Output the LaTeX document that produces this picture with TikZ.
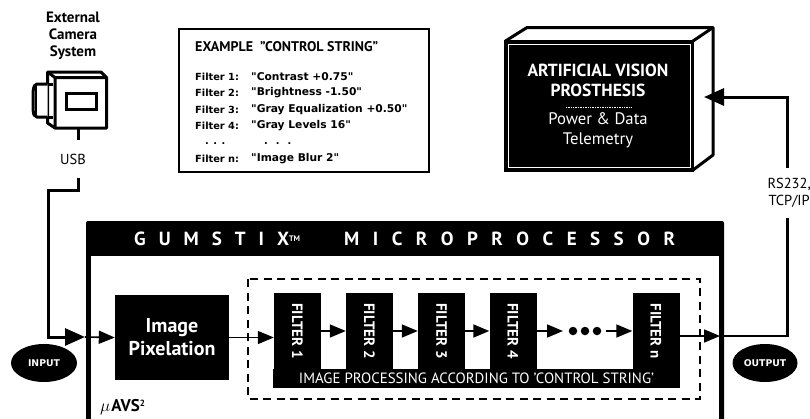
\documentclass[tikz,border=0pt]{standalone}
\usepackage{fontspec}
\usepackage{graphicx}
\setmainfont{PT Sans}
\newfontfamily\verd{DejaVu Sans}
\usetikzlibrary{arrows.meta,shapes.geometric}
\tikzset{
  x=1pt,y=-1pt,
  blk/.style={fill=black,draw=none,inner sep=0pt,text=white,align=center},
  wire/.style={line width=3pt,line join=miter},
  thin wire/.style={line width=1.6pt},
  bighead/.style={-{Triangle[length=20pt,width=17pt]}},
  smallhead/.style={-{Triangle[length=16pt,width=13pt]}},
  oval/.style={ellipse,fill=black,text=white,inner sep=0pt,font=\verd\bfseries\fontsize{9.3}{10}\selectfont},
  ftext/.style={font=\bfseries\fontsize{15}{15}\selectfont},
  plain/.style={inner sep=0pt,align=center},
  lbl/.style={plain,font=\fontsize{14.5}{14.5}\selectfont},
  flt/.style={anchor=west,inner sep=0pt,font=\verd\bfseries\fontsize{9.8}{10}\selectfont},
  fltq/.style={anchor=west,inner sep=0pt,font=\verd\bfseries\fontsize{10.7}{10}\selectfont},
  filterbox/.style={blk,minimum width=47pt,minimum height=76pt,ftext},
}
\begin{document}
\begin{tikzpicture}
\useasboundingbox (0,0) rectangle (810,418);
\fill[white] (0,0) rectangle (810,418);
% camera label
\node[plain,font=\bfseries\fontsize{15}{17}\selectfont] (camlabel) at (73,36) {External\\Camera\\System};
% camera
\draw[line width=3pt,line join=round,fill=white] (47.5,72) -- (101,72) -- (106.5,77.5) -- (106.5,128) -- (55,128) -- (47.5,123) -- cycle;
\draw[line width=3pt] (47.5,72) -- (55,77.5) -- (106.5,77.5) (55,77.5) -- (55,128);
\draw[line width=3pt,fill=white,rounded corners=2pt] (47.5,84) -- (35,84) -- (33,90) -- (33,112) -- (35,117) -- (47.5,117);
\draw[line width=1.6pt] (36,85) -- (36,116);
\draw[line width=3pt] (47.5,84) -- (53,84) (47.5,117) -- (53,117);
\node[draw,line width=3pt,minimum width=30pt,minimum height=16pt,inner sep=0pt] (window) at (81.5,101.5) {};
\coordinate (camstem) at (78,128);
\coordinate (stemend) at (78,140);
\draw[wire] (camstem) -- (stemend);
\node[lbl] (usb) at (73,159) {USB};
% usb wire
\coordinate (w1) at (78,178);
\coordinate (w2) at (78,190);
\coordinate (w3) at (48,190);
\coordinate (w4) at (48,337);
\coordinate (w5) at (85,337);
\draw[wire,bighead] (w1) -- (w2) -- (w3) -- (w4) -- (w5);
% example box
\node[draw,line width=2pt,minimum width=250pt,minimum height=143pt,inner sep=0pt] (ex) at (304,100.5) {};
\node[anchor=west,inner sep=0pt,font=\bfseries\fontsize{14}{14}\selectfont] (e0) at (195,47) {EXAMPLE \ "CONTROL STRING"};
\node[flt] (e1) at (195,77) {Filter 1:};
\node[flt] (e2) at (195,93) {Filter 2:};
\node[flt] (e3) at (195,110) {Filter 3:};
\node[flt] (e4) at (195,125.5) {Filter 4:};
\node[flt] (e7) at (195,159) {Filter n:};
\node[fltq] (q1) at (251,77) {"Contrast +0.75"};
\node[fltq] (q2) at (251,93) {"Brightness -1.50"};
\node[fltq] (q3) at (251,110) {"Gray Equalization +0.50"};
\node[fltq] (q4) at (251,125.5) {"Gray Levels 16"};
\node[fltq] (q7) at (251,159) {"Image Blur 2"};
\node[flt] (e5) at (205,144) {. . .};
\node[flt] (e6) at (264,144) {. \ . \ .};
% prosthesis
\draw[line width=3pt,line join=round,fill=white] (505.5,41) -- (527,27.5) -- (713,27.5) -- (713,155) -- (693,170) -- cycle;
\draw[line width=3pt] (693,41) -- (713,27.5);
\node[blk,draw=black,line width=3pt,minimum width=187pt,minimum height=129pt] (pros) at (599,105.5) {};
\draw[white,line width=0.5pt] (508.5,44.5) rectangle (690,167);
\node[plain,text=white,font=\bfseries\fontsize{17.5}{20}\selectfont] (p1) at (598,80) {ARTIFICIAL VISION\\PROSTHESIS};
\coordinate (d1) at (566,107);
\coordinate (d2) at (632,107);
\draw[white,line width=0.7pt,densely dotted] (d1) -- (d2);
\node[plain,text=white,font=\fontsize{16.7}{19.5}\selectfont] (p2) at (598,130.5) {Power \& Data\\Telemetry};
% rs232
\coordinate (r1) at (787.5,168);
\coordinate (r2) at (787.5,97);
\coordinate (r3) at (704,97);
\draw[wire,bighead] (r1) -- (r2) -- (r3);
\node[plain,anchor=east,font=\fontsize{14.5}{17.5}\selectfont] (rs) at (811,193) {RS232,\\TCP/IP};
% gumstix frame
\fill[black,rounded corners=2pt] (86,221) rectangle (724,430);
\fill[white] (90.5,256) rectangle (719,430);
\node[plain,anchor=west,text=white,font=\bfseries\fontsize{19}{19}\selectfont] (t1) at (134,239) {G\hspace{13pt}U\hspace{13pt}M\hspace{13pt}S\hspace{13pt}T\hspace{13pt}I\hspace{13pt}X\raisebox{4pt}{\fontsize{8}{8}\selectfont TM}};
\node[plain,anchor=west,text=white,font=\bfseries\fontsize{19}{19}\selectfont] (t2) at (344,239) {M\hspace{13.5pt}I\hspace{13.5pt}C\hspace{13.5pt}R\hspace{13.5pt}O\hspace{13.5pt}P\hspace{13.5pt}R\hspace{13.5pt}O\hspace{13.5pt}C\hspace{13.5pt}E\hspace{13.5pt}S\hspace{13.5pt}S\hspace{13.5pt}O\hspace{13.5pt}R};
% dashed
\draw[line width=1.5pt,dash pattern=on 8pt off 5.5pt] (248,279) rectangle (700,399);
% pixelation
\node[blk,minimum width=114pt,minimum height=85pt,font=\bfseries\fontsize{20}{23}\selectfont] (pix) at (172,337.5) {Image\\Pixelation};
% filters
\node[blk,minimum width=407pt,minimum height=19pt,font=\fontsize{14.9}{14.9}\selectfont] (banner) at (476.5,378.5) {IMAGE PROCESSING ACCORDING TO 'CONTROL STRING'};
\node[filterbox] (f1) at (297.5,331) {\rotatebox{-90}{FILTER 1}};
\node[filterbox] (f2) at (369.5,331) {\rotatebox{-90}{FILTER 2}};
\node[filterbox] (f3) at (441.5,331) {\rotatebox{-90}{FILTER 3}};
\node[filterbox] (f4) at (513,331) {\rotatebox{-90}{FILTER 4}};
\node[filterbox] (fn) at (656,331) {\rotatebox{-90}{FILTER n}};
% arrows
\coordinate (in0) at (85,337);
\draw[thin wire,smallhead] (in0) -- (pix.west);
\draw[thin wire,smallhead] (pix.east) -- (pix.east -| f1.west);
\draw[thin wire,smallhead] (f1.east) -- (f2.west);
\draw[thin wire,smallhead] (f2.east) -- (f3.west);
\draw[thin wire,smallhead] (f3.east) -- (f4.west);
\coordinate (g1) at (563,331);
\coordinate (g2) at (606,331);
\draw[thin wire,smallhead] (f4.east) -- (g1);
\draw[thin wire,smallhead] (g2) -- (fn.west);
\node[circle,fill=black,minimum size=8.5pt,inner sep=0pt] (b1) at (573,331) {};
\node[circle,fill=black,minimum size=8.5pt,inner sep=0pt] (b2) at (585,331) {};
\node[circle,fill=black,minimum size=8.5pt,inner sep=0pt] (b3) at (597,331) {};
% output
\coordinate (o1) at (679.5,336);
\coordinate (o2) at (720,336);
\coordinate (o3) at (787.5,336);
\coordinate (o4) at (787.5,218);
\draw[thin wire,smallhead] (o1) -- (o2);
\draw[wire,line width=2.4pt] (o2) -- (o3) -- (o4);
% ovals
\node[oval,minimum width=66pt,minimum height=38pt] (input) at (44,363) {INPUT};
\node[oval,minimum width=65pt,minimum height=38pt] (output) at (765,363) {OUTPUT};
% uavs
\node[plain,anchor=west,font=\bfseries\fontsize{17}{17}\selectfont] (avs) at (100,407) {$\mu$\hspace{1pt}AVS\raisebox{5pt}{\fontsize{9}{9}\selectfont 2}};
\end{tikzpicture}
\end{document}
